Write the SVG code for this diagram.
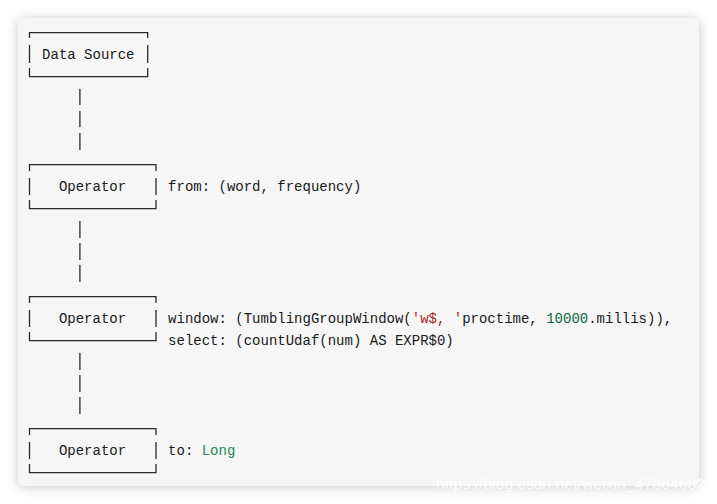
<svg xmlns="http://www.w3.org/2000/svg" width="717" height="504" viewBox="0 0 717 504">
  <defs>
    <filter id="sh" x="-10%" y="-10%" width="120%" height="120%">
      <feDropShadow dx="0" dy="1" stdDeviation="6" flood-color="#000" flood-opacity="0.22"/>
    </filter>
    <style>
      .t { font-family: "Liberation Mono", "Courier New", monospace; font-size: 14px; fill: #1a1a1a; white-space: pre; }
      .s { fill: #b0262b; }
      .n { fill: #116644; }
      .ty { fill: #1a8a5a; }
      .b { fill: none; stroke: #2a2a2a; stroke-width: 1.3; }
      .wm { font-family: "Liberation Sans", Arial, sans-serif; font-size: 14px; fill: #ffffff; fill-opacity: 0.85; }
    </style>
  </defs>
  <rect width="717" height="504" fill="#ffffff"/>
  <rect x="18" y="18" width="681" height="468" rx="6" fill="#f6f6f6" filter="url(#sh)"/>

  <g id="connectors" class="b">
    <path d="M79.9,89 V105 M79.9,111 V127 M79.9,133 V150"/>
    <path d="M79.9,221 V238 M79.9,243 V260 M79.9,265 V282"/>
    <path d="M79.9,353 V370 M79.9,375 V392 M79.9,397 V414"/>
  </g>

  <g id="data-source">
    <path class="b" d="M29.5,38 V32.7 H147.7 V38 M29.5,45 V63 M147.7,45 V63 M29.5,68 V76.7 H147.7 V68"/>
    <text class="t" x="42.1" y="59">Data Source</text>
  </g>

  <g id="operator-from">
    <path class="b" d="M29.5,171 V164.7 H156 V171 M29.5,178 V195 M156,178 V195 M29.5,200 V208.7 H156 V200"/>
    <text class="t" x="58.9" y="191">Operator</text>
    <text class="t" x="168.1" y="191">from: (word, frequency)</text>
  </g>

  <g id="operator-window">
    <path class="b" d="M29.5,303 V296.7 H156 V303 M29.5,310 V327 M156,310 V327 M29.5,332 V340.7 H156 V332"/>
    <text class="t" x="58.9" y="323">Operator</text>
    <text class="t" x="168.1" y="323">window: (TumblingGroupWindow(<tspan class="s">'w$, '</tspan>proctime, <tspan class="n">10000</tspan>.millis)),</text>
    <text class="t" x="168.1" y="345">select: (countUdaf(num) AS EXPR$0)</text>
  </g>

  <g id="operator-to">
    <path class="b" d="M29.5,435 V428.7 H156 V435 M29.5,442 V459 M156,442 V459 M29.5,464 V472.7 H156 V464"/>
    <text class="t" x="58.9" y="455">Operator</text>
    <text class="t" x="168.1" y="455">to: <tspan class="ty">Long</tspan></text>
  </g>

  <text class="wm" x="436" y="489" textLength="269" lengthAdjust="spacingAndGlyphs">https://blog.csdn.net/weixin_47364682</text>
</svg>
